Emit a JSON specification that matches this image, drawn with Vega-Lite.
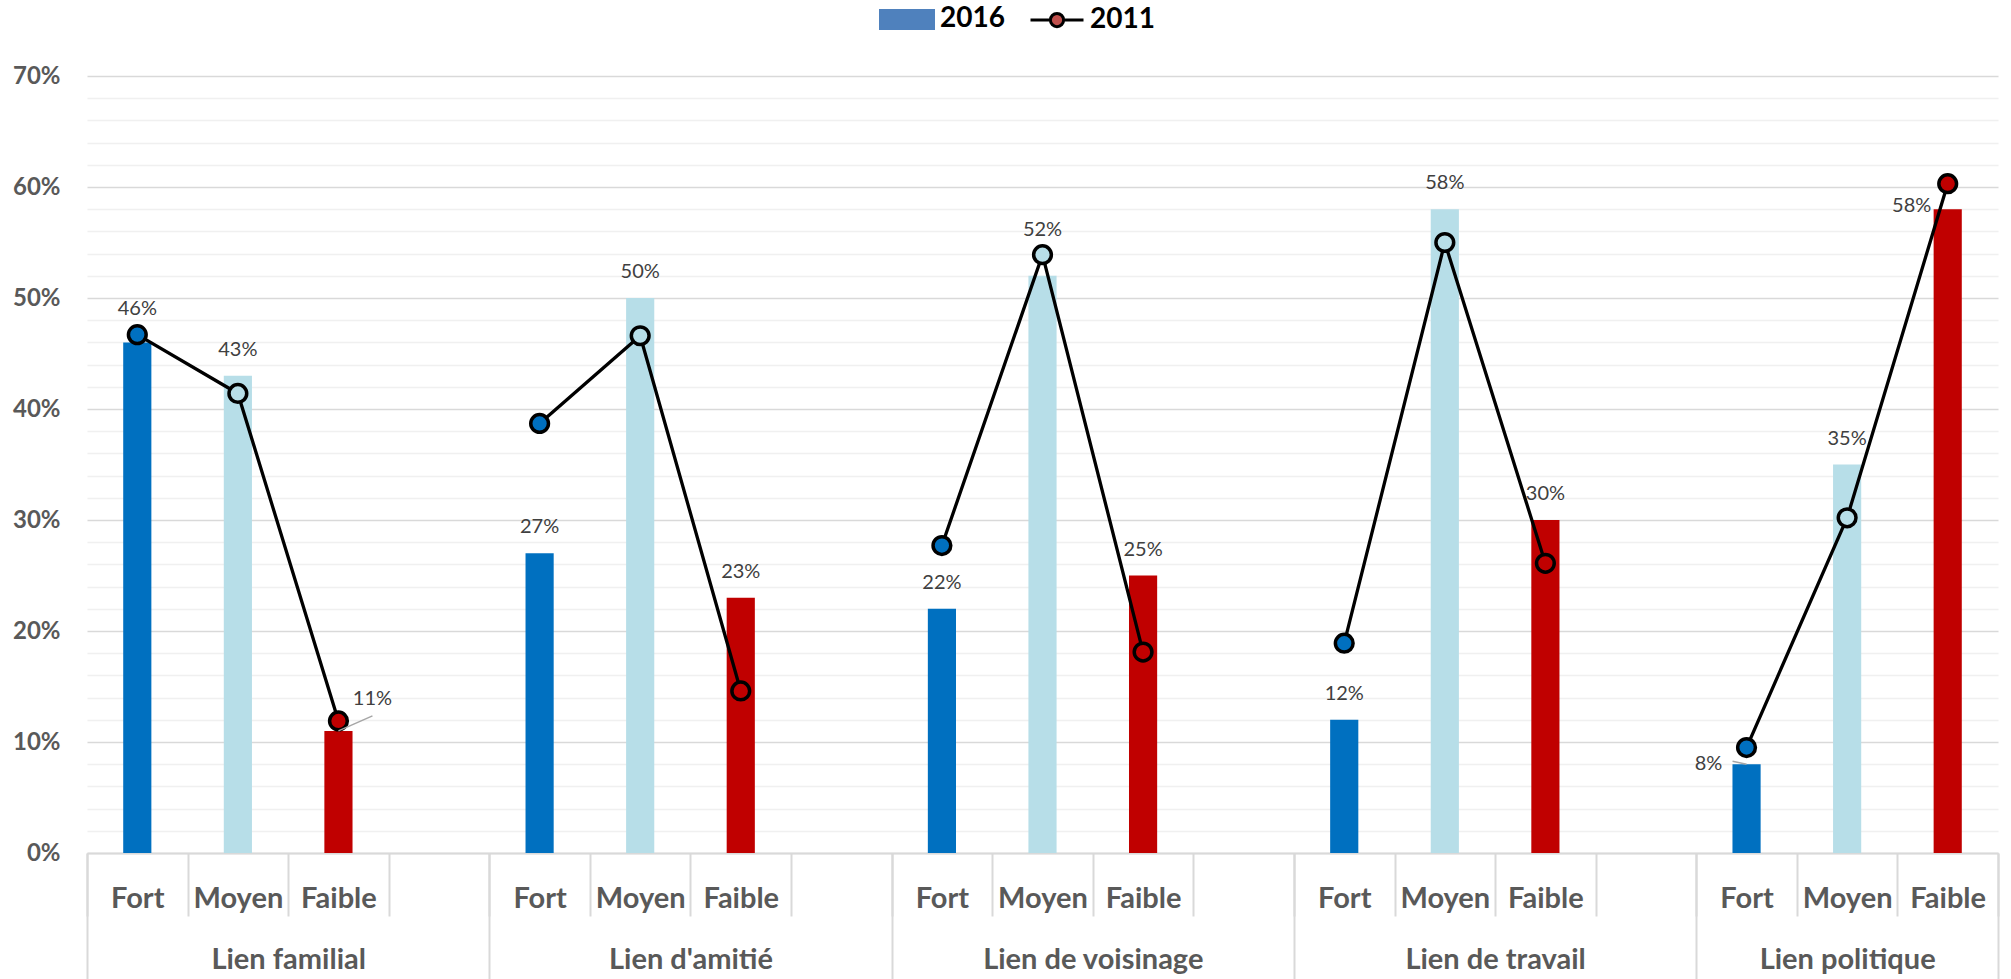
{
  "$schema": "https://vega.github.io/schema/vega-lite/v6.json",
  "width": 1911,
  "height": 777,
  "autosize": "none",
  "padding": {"left": 87, "top": 76, "right": 13, "bottom": 126},
  "background": "white",
  "config": {"view": {"stroke": null}, "font": "Lato"},
  "datasets": {
    "d": [
      {"lien": "Lien familial", "force": "Fort", "slot": "Lien familial|Fort", "v2016": 0.46, "v2011": 0.467},
      {"lien": "Lien familial", "force": "Moyen", "slot": "Lien familial|Moyen", "v2016": 0.43, "v2011": 0.414},
      {"lien": "Lien familial", "force": "Faible", "slot": "Lien familial|Faible", "v2016": 0.11, "v2011": 0.119},
      {"lien": "Lien d'amitié", "force": "Fort", "slot": "Lien d'amitié|Fort", "v2016": 0.27, "v2011": 0.387},
      {"lien": "Lien d'amitié", "force": "Moyen", "slot": "Lien d'amitié|Moyen", "v2016": 0.50, "v2011": 0.466},
      {"lien": "Lien d'amitié", "force": "Faible", "slot": "Lien d'amitié|Faible", "v2016": 0.23, "v2011": 0.146},
      {"lien": "Lien de voisinage", "force": "Fort", "slot": "Lien de voisinage|Fort", "v2016": 0.22, "v2011": 0.277},
      {"lien": "Lien de voisinage", "force": "Moyen", "slot": "Lien de voisinage|Moyen", "v2016": 0.52, "v2011": 0.539},
      {"lien": "Lien de voisinage", "force": "Faible", "slot": "Lien de voisinage|Faible", "v2016": 0.25, "v2011": 0.181},
      {"lien": "Lien de travail", "force": "Fort", "slot": "Lien de travail|Fort", "v2016": 0.12, "v2011": 0.189},
      {"lien": "Lien de travail", "force": "Moyen", "slot": "Lien de travail|Moyen", "v2016": 0.58, "v2011": 0.550},
      {"lien": "Lien de travail", "force": "Faible", "slot": "Lien de travail|Faible", "v2016": 0.30, "v2011": 0.261},
      {"lien": "Lien politique", "force": "Fort", "slot": "Lien politique|Fort", "v2016": 0.08, "v2011": 0.095},
      {"lien": "Lien politique", "force": "Moyen", "slot": "Lien politique|Moyen", "v2016": 0.35, "v2011": 0.302},
      {"lien": "Lien politique", "force": "Faible", "slot": "Lien politique|Faible", "v2016": 0.58, "v2011": 0.603}
    ]
  },
  "data": {"name": "d"},
  "resolve": {"axis": {"x": "independent", "y": "independent"}},
  "layer": [
    {
      "mark": {"type": "bar", "width": {"band": 0.28}},
      "encoding": {
        "x": {
          "field": "slot", "type": "nominal", "title": null,
          "sort": ["Lien familial|Fort","Lien familial|Moyen","Lien familial|Faible","Lien familial|","Lien d'amitié|Fort","Lien d'amitié|Moyen","Lien d'amitié|Faible","Lien d'amitié|","Lien de voisinage|Fort","Lien de voisinage|Moyen","Lien de voisinage|Faible","Lien de voisinage|","Lien de travail|Fort","Lien de travail|Moyen","Lien de travail|Faible","Lien de travail|","Lien politique|Fort","Lien politique|Moyen","Lien politique|Faible"],
          "scale": {
            "domain": ["Lien familial|Fort","Lien familial|Moyen","Lien familial|Faible","Lien familial|","Lien d'amitié|Fort","Lien d'amitié|Moyen","Lien d'amitié|Faible","Lien d'amitié|","Lien de voisinage|Fort","Lien de voisinage|Moyen","Lien de voisinage|Faible","Lien de voisinage|","Lien de travail|Fort","Lien de travail|Moyen","Lien de travail|Faible","Lien de travail|","Lien politique|Fort","Lien politique|Moyen","Lien politique|Faible"],
            "paddingInner": 0, "paddingOuter": 0
          },
          "axis": {
            "orient": "bottom", "grid": false,
            "tickBand": "extent", "tickSize": 63, "tickColor": "#d9d9d9", "tickWidth": 2,
            "domainColor": "#d9d9d9", "domainWidth": 2,
            "labelExpr": "datum.value ? split(datum.value, '|')[1] : ''",
            "labelFont": "Lato", "labelFontWeight": "bold", "labelFontSize": 29, "labelColor": "#595959",
            "labelBaseline": "alphabetic", "labelPadding": -9, "labelAngle": 0, "labelOverlap": false, "labelLimit": 0
          }
        },
        "y": {
          "field": "v2016", "type": "quantitative", "title": null,
          "scale": {"domain": [0, 0.7], "nice": false},
          "axis": {
            "values": [0,0.02,0.04,0.06,0.08,0.1,0.12,0.14,0.16,0.18,0.2,0.22,0.24,0.26,0.28,0.3,0.32,0.34,0.36,0.38,0.4,0.42,0.44,0.46,0.48,0.5,0.52,0.54,0.56,0.58,0.6,0.62,0.64,0.66,0.68,0.7],
            "labelExpr": "round(datum.value * 100) % 10 == 0 ? format(datum.value, '.0%') : ''",
            "ticks": false, "domain": false, "grid": true,
            "gridColor": {"condition": {"test": "round(datum.value * 100) % 10 == 0", "value": "#d9d9d9"}, "value": "#f0f0f0"},
            "gridWidth": 1.5,
            "labelFont": "Lato", "labelFontSize": 24, "labelFontWeight": "bold", "labelColor": "#595959",
            "labelPadding": 27, "labelOverlap": false, "labelFlush": false, "labelBound": false
          }
        },
        "fill": {
          "field": "force", "type": "nominal",
          "scale": {"domain": ["Fort","Moyen","Faible","2016","2011"], "range": ["#0070C0","#B7DEE8","#C00000","#4F81BD","#C0504D"]}
        }
      }
    },
    {
      "mark": {"type": "line", "color": "black", "strokeWidth": 3.3},
      "encoding": {
        "x": {
          "field": "slot", "type": "nominal", "title": null,
          "sort": ["Lien familial|Fort","Lien familial|Moyen","Lien familial|Faible","Lien familial|","Lien d'amitié|Fort","Lien d'amitié|Moyen","Lien d'amitié|Faible","Lien d'amitié|","Lien de voisinage|Fort","Lien de voisinage|Moyen","Lien de voisinage|Faible","Lien de voisinage|","Lien de travail|Fort","Lien de travail|Moyen","Lien de travail|Faible","Lien de travail|","Lien politique|Fort","Lien politique|Moyen","Lien politique|Faible"],
          "axis": {
            "orient": "bottom", "grid": false, "domain": false,
            "tickBand": "extent", "tickSize": 126, "tickColor": "#d9d9d9", "tickWidth": 2,
            "tickOpacity": {"condition": {"test": "!datum.value || slice(datum.value, -1) == '|' || datum.value == 'Lien politique|Faible'", "value": 1}, "value": 0},
            "labelExpr": "datum.value && ((indexof(datum.value, '|Faible') > 0 && indexof(datum.value, 'politique') < 0) || datum.value == 'Lien politique|Moyen') ? split(datum.value, '|')[0] : ''",
            "labelOffset": {"condition": {"test": "datum.value && indexof(datum.value, '|Faible') > 0", "value": -50.29}, "value": 0},
            "labelFont": "Lato", "labelFontWeight": "bold", "labelFontSize": 29, "labelColor": "#595959",
            "labelBaseline": "alphabetic", "labelPadding": -11, "labelAngle": 0, "labelOverlap": false, "labelLimit": 0
          }
        },
        "y": {"field": "v2011", "type": "quantitative", "title": null, "axis": null},
        "detail": {"field": "lien"}
      }
    },
    {
      "mark": {"type": "point", "filled": true, "size": 314, "strokeWidth": 3.5, "opacity": 1},
      "encoding": {
        "x": {"field": "slot", "type": "nominal", "axis": null},
        "y": {"field": "v2011", "type": "quantitative", "title": null, "axis": null},
        "fill": {
          "field": "force", "type": "nominal",
          "legend": {"values": ["2016","2011"], "title": null, "orient": "none", "legendX": 792, "legendY": -85, "direction": "horizontal", "symbolSize": 2809, "symbolStrokeWidth": 3, "symbolOpacity": 1, "labelFont": "Lato", "labelFontSize": 28, "labelFontWeight": "bold", "labelColor": "#000000", "labelOffset": 5, "columnPadding": 19}
        },
        "shape": {
          "field": "force", "type": "nominal",
          "scale": {"domain": ["Fort","Moyen","Faible","2016","2011"], "range": ["circle","circle","circle","M-1,-0.34H1V0.34H-1Z","M-1,0H-0.25M0.25,0H1M-0.25,0A0.25,0.25 0 1,0 0.25,0A0.25,0.25 0 1,0 -0.25,0Z"]},
          "legend": {"values": ["2016","2011"], "title": null, "orient": "none", "legendX": 792, "legendY": -85, "direction": "horizontal", "symbolSize": 2809, "symbolStrokeWidth": 3, "symbolOpacity": 1, "labelFont": "Lato", "labelFontSize": 28, "labelFontWeight": "bold", "labelColor": "#000000", "labelOffset": 5, "columnPadding": 19}
        },
        "stroke": {
          "field": "force", "type": "nominal",
          "scale": {"domain": ["Fort","Moyen","Faible","2016","2011"], "range": ["#000000","#000000","#000000","#4F81BD","#000000"]},
          "legend": {"values": ["2016","2011"], "title": null, "orient": "none", "legendX": 792, "legendY": -85, "direction": "horizontal", "symbolSize": 2809, "symbolStrokeWidth": 3, "symbolOpacity": 1, "labelFont": "Lato", "labelFontSize": 28, "labelFontWeight": "bold", "labelColor": "#000000", "labelOffset": 5, "columnPadding": 19}
        }
      }
    },
    {
      "transform": [{"filter": "indexof(['Lien familial|Fort','Lien familial|Faible','Lien de voisinage|Moyen','Lien politique|Fort','Lien politique|Faible'], datum.slot) < 0"}],
      "mark": {"type": "text", "dy": -26, "font": "Lato", "fontSize": 20, "fill": "#404040", "baseline": "middle"},
      "encoding": {
        "x": {"field": "slot", "type": "nominal", "axis": null},
        "y": {"field": "v2016", "type": "quantitative", "title": null, "axis": null},
        "text": {"field": "v2016", "type": "quantitative", "format": ".0%"}
      }
    },
    {
      "transform": [{"filter": "datum.slot == 'Lien familial|Fort'"}],
      "mark": {"type": "text", "dy": -33, "font": "Lato", "fontSize": 20, "fill": "#404040", "baseline": "middle"},
      "encoding": {
        "x": {"field": "slot", "type": "nominal", "axis": null},
        "y": {"field": "v2016", "type": "quantitative", "title": null, "axis": null},
        "text": {"field": "v2016", "type": "quantitative", "format": ".0%"}
      }
    },
    {
      "transform": [{"filter": "datum.slot == 'Lien de voisinage|Moyen'"}],
      "mark": {"type": "text", "dy": -46, "font": "Lato", "fontSize": 20, "fill": "#404040", "baseline": "middle"},
      "encoding": {
        "x": {"field": "slot", "type": "nominal", "axis": null},
        "y": {"field": "v2016", "type": "quantitative", "title": null, "axis": null},
        "text": {"field": "v2016", "type": "quantitative", "format": ".0%"}
      }
    },
    {
      "transform": [{"filter": "datum.slot == 'Lien familial|Faible'"}],
      "mark": {"type": "text", "dx": 34, "dy": -32, "font": "Lato", "fontSize": 20, "fill": "#404040", "baseline": "middle"},
      "encoding": {
        "x": {"field": "slot", "type": "nominal", "axis": null},
        "y": {"field": "v2016", "type": "quantitative", "title": null, "axis": null},
        "text": {"field": "v2016", "type": "quantitative", "format": ".0%"}
      }
    },
    {
      "transform": [{"filter": "datum.slot == 'Lien politique|Fort'"}],
      "mark": {"type": "text", "dx": -38, "dy": 0, "font": "Lato", "fontSize": 20, "fill": "#404040", "baseline": "middle"},
      "encoding": {
        "x": {"field": "slot", "type": "nominal", "axis": null},
        "y": {"field": "v2016", "type": "quantitative", "title": null, "axis": null},
        "text": {"field": "v2016", "type": "quantitative", "format": ".0%"}
      }
    },
    {
      "transform": [{"filter": "datum.slot == 'Lien politique|Faible'"}],
      "mark": {"type": "text", "dx": -36, "dy": -3, "font": "Lato", "fontSize": 20, "fill": "#404040", "baseline": "middle"},
      "encoding": {
        "x": {"field": "slot", "type": "nominal", "axis": null},
        "y": {"field": "v2016", "type": "quantitative", "title": null, "axis": null},
        "text": {"field": "v2016", "type": "quantitative", "format": ".0%"}
      }
    },
    {
      "transform": [{"filter": "datum.slot == 'Lien familial|Faible'"}],
      "mark": {"type": "rule", "color": "#a6a6a6", "strokeWidth": 1.5, "x2Offset": 34, "y2Offset": -15},
      "encoding": {
        "x": {"field": "slot", "type": "nominal", "axis": null},
        "x2": {"field": "slot"},
        "y": {"field": "v2016", "type": "quantitative", "title": null, "axis": null},
        "y2": {"field": "v2016"}
      }
    },
    {
      "transform": [{"filter": "datum.slot == 'Lien politique|Fort'"}],
      "mark": {"type": "rule", "color": "#a6a6a6", "strokeWidth": 1.5, "xOffset": -14, "yOffset": -3},
      "encoding": {
        "x": {"field": "slot", "type": "nominal", "axis": null},
        "x2": {"field": "slot"},
        "y": {"field": "v2016", "type": "quantitative", "title": null, "axis": null},
        "y2": {"field": "v2016"}
      }
    }
  ]
}
